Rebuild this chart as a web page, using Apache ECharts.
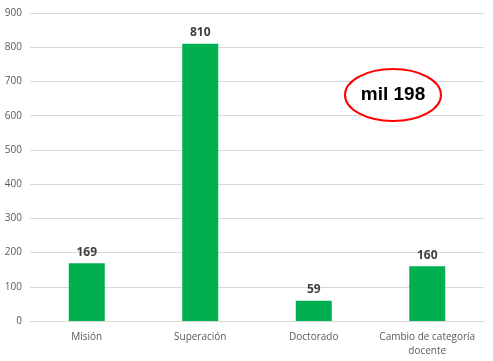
<!DOCTYPE html>
<html><head><meta charset="utf-8">
<script src="https://cdn.jsdelivr.net/npm/echarts@6/dist/echarts.min.js"></script>
<style>html,body{margin:0;padding:0;background:#fff}#c{width:493px;height:361px}</style>
</head><body><div id="c"></div>
<script>
const categories = ['Misión', 'Superación', 'Doctorado', 'Cambio de categoría\ndocente'];
const values = [169, 810, 59, 160];
const yTicks = [0, 100, 200, 300, 400, 500, 600, 700, 800, 900];
const annotation = 'mil 198';

const chart = echarts.init(document.getElementById('c'), null, {renderer: 'canvas'});
chart.setOption({
  animation: false,
  backgroundColor: '#fff',
  grid: {left: 30, right: 9, top: 13, bottom: 40, containLabel: false},
  xAxis: {
    type: 'category', data: categories,
    axisLine: {lineStyle: {color: '#d9d9d9'}},
    axisTick: {show: false},
    axisLabel: {color: '#595959', fontSize: 10, fontFamily: 'Open Sans, Calibri, sans-serif', margin: 9, lineHeight: 14, interval: 0}
  },
  yAxis: {
    type: 'value', min: 0, max: 900, interval: 100,
    axisLine: {show: false}, axisTick: {show: false},
    splitLine: {lineStyle: {color: '#d9d9d9'}},
    axisLabel: {color: '#595959', fontSize: 10, fontFamily: 'Open Sans, Calibri, sans-serif', margin: 8,
      formatter: v => yTicks.includes(v) ? String(v) : ''}
  },
  series: [{
    type: 'bar', data: values, barWidth: 36,
    itemStyle: {color: '#00b050'},
    label: {show: true, position: 'top', distance: 5, color: '#404040', fontSize: 12, fontWeight: 'bold', fontFamily: 'Open Sans, Calibri, sans-serif'}
  }],
  graphic: [
    {type: 'ellipse', shape: {cx: 393, cy: 95, rx: 48, ry: 26}, style: {fill: '#fff', stroke: '#ff0000', lineWidth: 2}, z: 100},
    {type: 'text', x: 393, y: 95, style: {text: annotation, fill: '#000', font: 'bold 19px Arial, Liberation Sans, sans-serif', textAlign: 'center', textVerticalAlign: 'middle'}, z: 101}
  ]
});
</script></body></html>
